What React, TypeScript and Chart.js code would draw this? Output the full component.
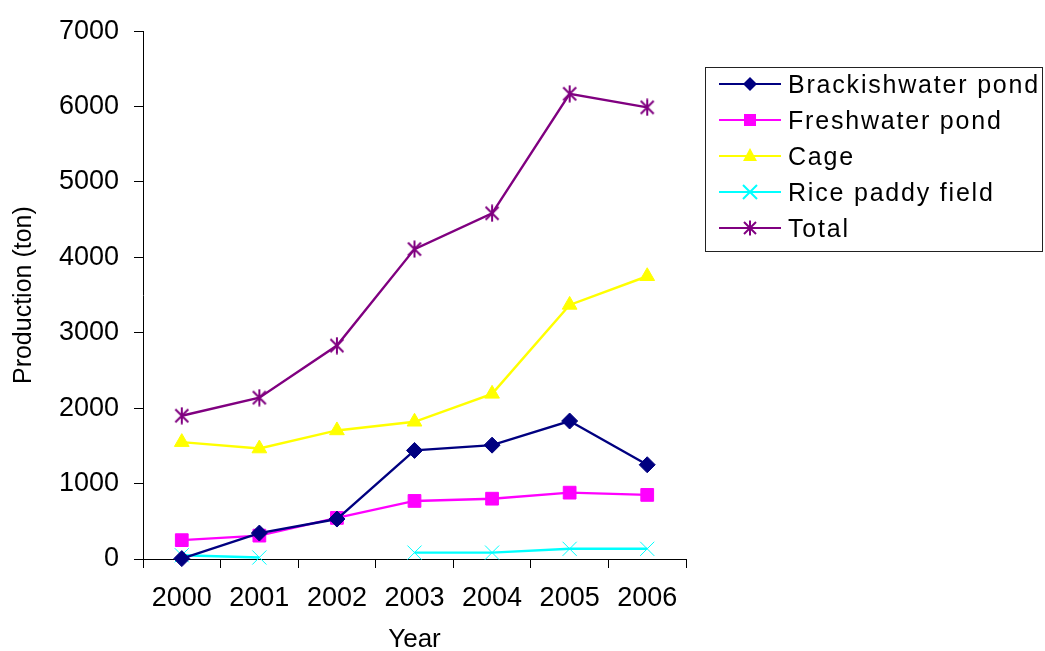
import React, { useEffect, useRef } from "react";
import { Chart, registerables } from "chart.js";

Chart.register(...registerables);

const years = ["2000", "2001", "2002", "2003", "2004", "2005", "2006"];
const brackishwater = [5, 344, 530, 1440, 1510, 1830, 1250];
const freshwater = [250, 310, 545, 770, 800, 880, 850];
const cage = [1550, 1465, 1705, 1820, 2190, 3370, 3750];
const riceField = [50, 20, null, 85, 85, 135, 135];
const total = [1900, 2140, 2830, 4110, 4585, 6170, 5990];
const yTicks = [0, 1000, 2000, 3000, 4000, 5000, 6000, 7000];

const FONT = "'Liberation Sans', Arial, sans-serif";

function makeStar(color: string): HTMLCanvasElement {
  const c = document.createElement("canvas");
  c.width = 18;
  c.height = 18;
  const ctx = c.getContext("2d")!;
  ctx.strokeStyle = color;
  ctx.lineWidth = 2;
  ctx.beginPath();
  ctx.moveTo(2.5, 2.5);
  ctx.lineTo(15.5, 15.5);
  ctx.moveTo(15.5, 2.5);
  ctx.lineTo(2.5, 15.5);
  ctx.moveTo(9, 0.5);
  ctx.lineTo(9, 17.5);
  ctx.stroke();
  return c;
}

const legendItems = [
  { label: "Brackishwater pond", color: "#000080", marker: "diamond" },
  { label: "Freshwater pond", color: "#FF00FF", marker: "square" },
  { label: "Cage", color: "#FFFF00", marker: "triangle" },
  { label: "Rice paddy field", color: "#00FFFF", marker: "x" },
  { label: "Total", color: "#800080", marker: "star" },
];

function Marker({ type, color }: { type: string; color: string }) {
  const cx = 31;
  const cy = 10;
  let m: React.ReactNode = null;
  if (type === "diamond")
    m = <polygon points={`${cx},${cy - 7} ${cx + 7},${cy} ${cx},${cy + 7} ${cx - 7},${cy}`} fill={color} />;
  else if (type === "square") m = <rect x={cx - 6} y={cy - 6} width={12} height={12} fill={color} />;
  else if (type === "triangle")
    m = <polygon points={`${cx},${cy - 8} ${cx + 7},${cy + 5} ${cx - 7},${cy + 5}`} fill={color} />;
  else if (type === "x")
    m = (
      <path d={`M${cx - 7} ${cy - 7} L${cx + 7} ${cy + 7} M${cx + 7} ${cy - 7} L${cx - 7} ${cy + 7}`} stroke={color} strokeWidth={2} />
    );
  else
    m = (
      <path
        d={`M${cx - 6} ${cy - 6} L${cx + 6} ${cy + 6} M${cx + 6} ${cy - 6} L${cx - 6} ${cy + 6} M${cx} ${cy - 7.5} L${cx} ${cy + 7.5}`}
        stroke={color}
        strokeWidth={2}
      />
    );
  return (
    <svg width={62} height={20} style={{ display: "block" }}>
      <line x1={0} y1={cy} x2={62} y2={cy} stroke={color} strokeWidth={2} />
      {m}
    </svg>
  );
}

export default function App() {
  const ref = useRef<HTMLCanvasElement | null>(null);

  useEffect(() => {
    if (!ref.current) return;
    const star = makeStar("#800080");
    const mk = (label: string, data: (number | null)[], color: string, pointStyle: any, radius: number) => ({
      label,
      data,
      borderColor: color,
      backgroundColor: color,
      borderWidth: 2.4,
      pointStyle,
      pointRadius: radius,
      pointBorderWidth: 1,
      pointBackgroundColor: color,
      pointBorderColor: color,
      tension: 0,
      spanGaps: false,
      clip: false as any,
    });
    const chart = new Chart(ref.current, {
      type: "line",
      data: {
        labels: years,
        datasets: [
          mk("Brackishwater pond", brackishwater, "#000080", "rectRot", 8),
          mk("Freshwater pond", freshwater, "#FF00FF", "rect", 9),
          mk("Cage", cage, "#FFFF00", "triangle", 8.5),
          mk("Rice paddy field", riceField, "#00FFFF", "crossRot", 10),
          mk("Total", total, "#800080", star, 9),
        ],
      },
      options: {
        animation: false,
        responsive: true,
        maintainAspectRatio: false,
        layout: { padding: { left: 0, right: 359, top: 30, bottom: 0 } },
        plugins: { legend: { display: false }, tooltip: { enabled: false } },
        scales: {
          x: {
            type: "category",
            offset: true,
            grid: { display: true, offset: true, drawOnChartArea: false, drawTicks: true, tickLength: 9, color: "#000" },
            border: { display: true, color: "#000", width: 1 },
            ticks: { color: "#000", font: { family: FONT, size: 27 }, padding: 14, maxRotation: 0, autoSkip: false },
            title: {
              display: true,
              text: "Year",
              color: "#000",
              font: { family: FONT, size: 26, lineHeight: 1 },
              padding: { top: 0, bottom: -2 },
            },
            afterFit: (s: any) => {
              s.height = 92;
            },
          },
          y: {
            min: 0,
            max: 7000,
            afterBuildTicks: (s: any) => {
              s.ticks = yTicks.map((v) => ({ value: v }));
            },
            grid: { display: true, drawOnChartArea: false, drawTicks: true, tickLength: 9, color: "#000" },
            border: { display: true, color: "#000", width: 1 },
            ticks: {
              color: "#000",
              font: { family: FONT, size: 27 },
              padding: 15,
              callback: (v: any) => String(v),
            },
            title: {
              display: true,
              text: "Production (ton)",
              color: "#000",
              font: { family: FONT, size: 25, lineHeight: 1 },
              padding: { top: 12, bottom: 0 },
            },
            afterFit: (s: any) => {
              s.width = 143;
            },
          },
        },
      },
    });
    return () => chart.destroy();
  }, []);

  return (
    <div style={{ position: "fixed", left: 0, top: 0, width: 1045, height: 651, background: "#fff" }}>
      <canvas ref={ref} />
      <div
        style={{
          position: "absolute",
          left: 705,
          top: 67,
          width: 336,
          height: 183,
          border: "1px solid #222",
          boxSizing: "content-box",
          fontFamily: FONT,
          fontSize: 25,
          color: "#000",
        }}
      >
        <div style={{ marginTop: -2 }}>
          {legendItems.map((it) => (
            <div key={it.label} style={{ display: "flex", alignItems: "center", height: 36, paddingLeft: 13 }}>
              <Marker type={it.marker} color={it.color} />
              <span style={{ marginLeft: 7, letterSpacing: "1.8px", whiteSpace: "nowrap", lineHeight: "36px" }}>{it.label}</span>
            </div>
          ))}
        </div>
      </div>
    </div>
  );
}
